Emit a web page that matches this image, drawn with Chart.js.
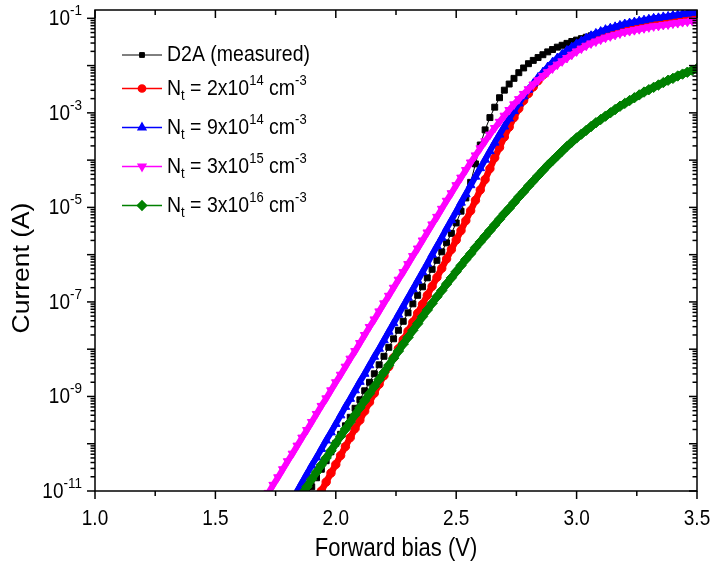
<!DOCTYPE html>
<html>
<head>
<meta charset="utf-8">
<title>Forward bias I-V</title>
<script src="https://cdn.jsdelivr.net/npm/chart.js@4.4.1/dist/chart.umd.min.js"></script>
<style>
  html, body { margin: 0; padding: 0; background: #fff; }
  #wrap { width: 711px; height: 572px; }
</style>
</head>
<body>
<div id="wrap"><canvas id="chartIV" width="711" height="572"></canvas></div>
<script>
// ============================================
// I-V curves, log current vs forward bias
// ============================================

// forward bias grid (V)
const bias = [
  1.70, 1.72, 1.74, 1.76, 1.78, 1.80, 1.82, 1.84, 1.86, 1.88,
  1.90, 1.92, 1.94, 1.96, 1.98, 2.00, 2.02, 2.04, 2.06, 2.08,
  2.10, 2.12, 2.14, 2.16, 2.18, 2.20, 2.22, 2.24, 2.26, 2.28,
  2.30, 2.32, 2.34, 2.36, 2.38, 2.40, 2.42, 2.44, 2.46, 2.48,
  2.50, 2.52, 2.54, 2.56, 2.58, 2.60, 2.62, 2.64, 2.66, 2.68,
  2.70, 2.72, 2.74, 2.76, 2.78, 2.80, 2.82, 2.84, 2.86, 2.88,
  2.90, 2.92, 2.94, 2.96, 2.98, 3.00, 3.02, 3.04, 3.06, 3.08,
  3.10, 3.12, 3.14, 3.16, 3.18, 3.20, 3.22, 3.24, 3.26, 3.28,
  3.30, 3.32, 3.34, 3.36, 3.38, 3.40, 3.42, 3.44, 3.46, 3.48,
  3.50,
];

// log10 of current (A) on the bias grid, null = below the plot
const logMeasured = [
  null, null, null, null, null, null, null, null, null, -11.09,
  -10.91, -10.72, -10.54, -10.36, -10.17, -9.99, -9.80, -9.62, -9.44, -9.25,
  -9.07, -8.88, -8.70, -8.52, -8.33, -8.15, -7.96, -7.78, -7.60, -7.41,
  -7.23, -7.04, -6.86, -6.68, -6.49, -6.31, -6.12, -5.94, -5.75, -5.55,
  -5.33, -5.08, -4.80, -4.47, -4.08, -3.68, -3.36, -3.10, -2.88, -2.68,
  -2.52, -2.39, -2.27, -2.15, -2.05, -1.96, -1.89, -1.83, -1.77, -1.71,
  -1.66, -1.61, -1.57, -1.53, -1.49, -1.46, -1.43, -1.40, -1.37, -1.35,
  -1.32, -1.30, -1.28, -1.26, -1.24, -1.22, -1.20, -1.18, -1.16, -1.14,
  -1.12, -1.10, -1.08, -1.06, -1.05, -1.03, -1.01, -0.99, -0.97, -0.95,
  -0.93,
];

const logNt2e14 = [
  null, null, null, null, null, null, null, null, null, null,
  null, -11.19, -11.00, -10.81, -10.62, -10.44, -10.25, -10.06, -9.87, -9.68,
  -9.50, -9.31, -9.12, -8.93, -8.74, -8.56, -8.37, -8.18, -7.99, -7.80,
  -7.62, -7.43, -7.24, -7.05, -6.86, -6.67, -6.48, -6.29, -6.09, -5.89,
  -5.69, -5.49, -5.28, -5.07, -4.85, -4.63, -4.41, -4.18, -3.95, -3.73,
  -3.51, -3.30, -3.10, -2.91, -2.74, -2.59, -2.45, -2.32, -2.20, -2.09,
  -1.99, -1.90, -1.81, -1.73, -1.66, -1.59, -1.53, -1.48, -1.43, -1.39,
  -1.35, -1.32, -1.29, -1.26, -1.23, -1.21, -1.18, -1.16, -1.14, -1.12,
  -1.10, -1.09, -1.07, -1.05, -1.04, -1.02, -1.01, -0.99, -0.98, -0.97,
  -0.96,
];

const logNt9e14 = [
  null, null, null, null, null, null, -11.18, -11.00, -10.82, -10.64,
  -10.46, -10.29, -10.11, -9.93, -9.76, -9.58, -9.40, -9.22, -9.05, -8.87,
  -8.69, -8.52, -8.34, -8.16, -7.99, -7.81, -7.63, -7.45, -7.27, -7.09,
  -6.91, -6.73, -6.55, -6.37, -6.19, -6.00, -5.82, -5.64, -5.45, -5.27,
  -5.09, -4.90, -4.72, -4.53, -4.35, -4.17, -3.99, -3.81, -3.63, -3.46,
  -3.29, -3.12, -2.96, -2.80, -2.65, -2.51, -2.38, -2.25, -2.14, -2.03,
  -1.93, -1.84, -1.76, -1.68, -1.61, -1.54, -1.48, -1.42, -1.37, -1.32,
  -1.28, -1.24, -1.21, -1.18, -1.15, -1.12, -1.10, -1.08, -1.06, -1.04,
  -1.02, -1.00, -0.99, -0.97, -0.96, -0.94, -0.93, -0.91, -0.90, -0.88,
  -0.87,
];

const logNt3e15 = [
  -11.21, -11.04, -10.87, -10.71, -10.54, -10.37, -10.21, -10.04, -9.87, -9.71,
  -9.54, -9.37, -9.20, -9.04, -8.87, -8.70, -8.54, -8.37, -8.20, -8.04,
  -7.87, -7.70, -7.53, -7.37, -7.20, -7.03, -6.87, -6.70, -6.53, -6.37,
  -6.20, -6.03, -5.87, -5.70, -5.53, -5.36, -5.20, -5.03, -4.86, -4.70,
  -4.53, -4.37, -4.21, -4.05, -3.90, -3.75, -3.60, -3.46, -3.32, -3.19,
  -3.06, -2.94, -2.82, -2.71, -2.60, -2.50, -2.40, -2.31, -2.22, -2.14,
  -2.06, -1.98, -1.91, -1.84, -1.77, -1.70, -1.64, -1.58, -1.53, -1.49,
  -1.45, -1.41, -1.38, -1.35, -1.32, -1.29, -1.27, -1.25, -1.23, -1.21,
  -1.19, -1.17, -1.16, -1.14, -1.13, -1.11, -1.10, -1.08, -1.07, -1.05,
  -1.04,
];

const logNt3e16 = [
  null, null, null, null, null, null, null, -11.21, -11.06, -10.91,
  -10.75, -10.60, -10.45, -10.30, -10.15, -9.99, -9.84, -9.69, -9.54, -9.39,
  -9.24, -9.09, -8.94, -8.79, -8.64, -8.49, -8.34, -8.19, -8.04, -7.89,
  -7.75, -7.60, -7.46, -7.31, -7.17, -7.03, -6.89, -6.76, -6.62, -6.49,
  -6.36, -6.23, -6.10, -5.98, -5.85, -5.73, -5.61, -5.49, -5.37, -5.25,
  -5.13, -5.02, -4.90, -4.78, -4.67, -4.55, -4.44, -4.33, -4.22, -4.11,
  -4.01, -3.91, -3.81, -3.71, -3.62, -3.53, -3.45, -3.37, -3.29, -3.21,
  -3.14, -3.07, -3.00, -2.93, -2.86, -2.80, -2.74, -2.68, -2.62, -2.56,
  -2.51, -2.46, -2.41, -2.36, -2.31, -2.27, -2.22, -2.18, -2.14, -2.10,
  -2.06,
];

// axes
const xTickValues = [1.0, 1.5, 2.0, 2.5, 3.0, 3.5];
const xTickLabels = ['1.0', '1.5', '2.0', '2.5', '3.0', '3.5'];
const yLabelExps = [-1, -3, -5, -7, -9, -11];
const Y_MIN = 1e-11;
const Y_MAX = 0.15;

const TXT_FONT = '"Liberation Sans", Arial, Helvetica, sans-serif';
const TXT_SY = 1.15;

const COLORS = {
  black: '#000000',
  red: '#ff0000',
  blue: '#0000ff',
  magenta: '#ff00ff',
  green: '#008000',
};

function toPoints(exps) {
  const pts = [];
  exps.forEach((e, i) => {
    if (e !== null) pts.push({ x: bias[i], y: Math.pow(10, e) });
  });
  return pts;
}

// ── series (legend rows use the same styles) ──

const seriesDefs = [
  { key: 'meas', data: logMeasured, color: COLORS.black, style: 'rect', radius: 4.2, legendRadius: 3.4, rot: 0, line: 1, order: 5,
    label: [['D2A (measured)', 19.5]] },
  { key: 'n1', data: logNt2e14, color: COLORS.red, style: 'circle', radius: 4.2, legendRadius: 3.6, rot: 0, line: 6.5, order: 4,
    label: [['N', 19.5], ['t', 13, 6], [' = 2x10', 19.5], ['14', 13, -7], [' cm', 19.5], ['-3', 13, -7]] },
  { key: 'n2', data: logNt9e14, color: COLORS.blue, style: 'triangle', radius: 5, legendRadius: 4.4, rot: 0, line: 6, order: 3,
    label: [['N', 19.5], ['t', 13, 6], [' = 9x10', 19.5], ['14', 13, -7], [' cm', 19.5], ['-3', 13, -7]] },
  { key: 'n3', data: logNt3e15, color: COLORS.magenta, style: 'triangle', radius: 5, legendRadius: 4.4, rot: 180, line: 6, order: 2,
    label: [['N', 19.5], ['t', 13, 6], [' = 3x10', 19.5], ['15', 13, -7], [' cm', 19.5], ['-3', 13, -7]] },
  { key: 'n4', data: logNt3e16, color: COLORS.green, style: 'rectRot', radius: 5.2, legendRadius: 4.6, rot: 0, line: 7.5, order: 1,
    label: [['N', 19.5], ['t', 13, 6], [' = 3x10', 19.5], ['16', 13, -7], [' cm', 19.5], ['-3', 13, -7]] },
];

const legendRowsY = [55, 88.5, 127.5, 166.5, 205.5];

// ── text helper: runs of [text, size, dy] ──

function drawRuns(ctx, runs, x, y, align, sx, sy) {
  let total = 0;
  for (const r of runs) {
    ctx.font = r[1] + 'px ' + TXT_FONT;
    total += ctx.measureText(r[0]).width;
  }
  let cx = align === 'right' ? -total : align === 'center' ? -total / 2 : 0;
  ctx.save();
  ctx.translate(x, y);
  ctx.scale(sx, sy);
  ctx.fillStyle = '#000';
  ctx.textAlign = 'left';
  ctx.textBaseline = 'middle';
  for (const r of runs) {
    ctx.font = r[1] + 'px ' + TXT_FONT;
    ctx.fillText(r[0], cx, r[2] || 0);
    cx += ctx.measureText(r[0]).width;
  }
  ctx.restore();
}

function seg(ctx, x1, y1, x2, y2) {
  ctx.beginPath();
  ctx.moveTo(x1, y1);
  ctx.lineTo(x2, y2);
  ctx.stroke();
}

// ── frame, ticks, labels, legend ──

const ivFrame = {
  id: 'ivFrame',
  afterDatasetsDraw(chart) {
    const ctx = chart.ctx;
    const xs = chart.scales.x;
    const ys = chart.scales.y;
    const { left, right, top, bottom } = chart.chartArea;

    ctx.save();
    ctx.strokeStyle = '#000';
    ctx.lineWidth = 1.5;
    ctx.strokeRect(left, top, right - left, bottom - top);

    // y ticks: decades long, 2..9 short; left outward, right inward
    for (let e = -11; e <= -1; e++) {
      for (let m = 1; m <= 9; m++) {
        const v = m * Math.pow(10, e);
        if (v > Y_MAX * 1.0001) break;
        const py = ys.getPixelForValue(v);
        const len = m === 1 ? 8 : 4.5;
        seg(ctx, left - len, py, left, py);
        seg(ctx, right, py, right - len, py);
      }
    }

    // x ticks every 0.25 V, long where labelled
    for (let i = 0; i <= 10; i++) {
      const v = 1.0 + i * 0.25;
      const px = xs.getPixelForValue(v);
      const major = xTickValues.some(t => Math.abs(t - v) < 1e-6);
      seg(ctx, px, bottom, px, bottom + (major ? 8 : 5));
      seg(ctx, px, top, px, top + (major ? 8 : 5));
    }

    // tick labels
    xTickValues.forEach((v, i) => {
      drawRuns(ctx, [[xTickLabels[i], 19]], xs.getPixelForValue(v), 519, 'center', 1, TXT_SY);
    });
    yLabelExps.forEach(e => {
      const py = ys.getPixelForValue(Math.pow(10, e));
      drawRuns(ctx, [['10', 19], [String(e), 13.5, -7.5]], left - 13, py + 1, 'right', 1, TXT_SY);
    });

    // axis titles
    drawRuns(ctx, [['Forward bias (V)', 22]], (left + right) / 2, 549, 'center', 1, TXT_SY);
    ctx.save();
    ctx.translate(23, 268);
    ctx.rotate(-Math.PI / 2);
    drawRuns(ctx, [['Current (A)', 23]], 0, 0, 'center', TXT_SY, 1);
    ctx.restore();

    // legend
    seriesDefs.forEach((s, i) => {
      const y = legendRowsY[i];
      ctx.strokeStyle = s.color;
      ctx.lineWidth = s.key === 'meas' ? 1 : 1.5;
      seg(ctx, 122, y, 162, y);
      ctx.fillStyle = s.color;
      ctx.strokeStyle = s.color;
      Chart.helpers.drawPoint(ctx, { pointStyle: s.style, radius: s.legendRadius, rotation: s.rot, borderWidth: 1 }, 142, y);
      drawRuns(ctx, s.label, 167, y, 'left', 1, TXT_SY);
    });

    ctx.restore();
  },
};

// ── chart ──

const datasets = seriesDefs.map(s => ({
  label: s.key,
  data: toPoints(s.data),
  order: s.order,
  borderColor: s.color,
  backgroundColor: s.color,
  borderWidth: s.line,
  pointStyle: s.style,
  pointRadius: s.radius,
  pointRotation: s.rot,
  pointBackgroundColor: s.color,
  pointBorderColor: s.color,
  pointBorderWidth: 1,
  tension: 0,
  fill: false,
  clip: 0,
}));

new Chart(document.getElementById('chartIV'), {
  type: 'line',
  data: { datasets },
  options: {
    responsive: false,
    animation: false,
    devicePixelRatio: 1,
    events: [],
    layout: { padding: { left: 95, top: 10, right: 14, bottom: 81 } },
    plugins: {
      legend: { display: false },
      tooltip: { enabled: false },
    },
    scales: {
      x: { type: 'linear', min: 1.0, max: 3.5, display: false },
      y: { type: 'logarithmic', min: Y_MIN, max: Y_MAX, display: false },
    },
  },
  plugins: [ivFrame],
});
</script>
</body>
</html>
